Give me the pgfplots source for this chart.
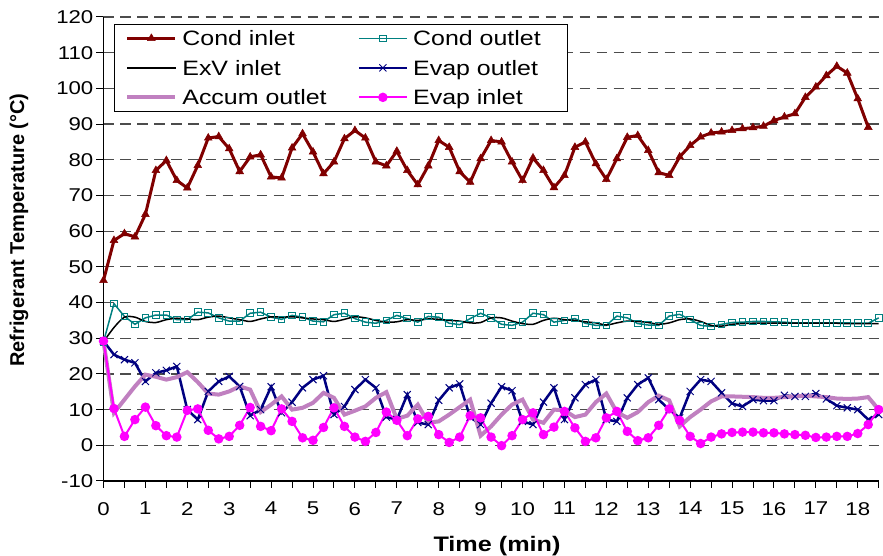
\documentclass[border=0pt]{standalone}
\usepackage{fontspec}
\setmainfont{Liberation Sans}[FakeStretch=1.2]
\newfontfamily\ylabfont{Liberation Sans}
\usepackage{pgfplots}
\usepackage{pgfplotstable}
\pgfplotsset{compat=1.18}
\definecolor{condin}{RGB}{128,0,0}
\definecolor{condout}{RGB}{0,128,128}
\definecolor{evapout}{RGB}{0,0,128}
\definecolor{accum}{RGB}{192,128,192}
\definecolor{evapin}{RGB}{255,0,255}

\pgfplotstableread{
t condin condout exv evapout accum evapin
0 46.2 29.0 29.0 29.2 29.2 29.2
0.25 57.4 39.7 33.0 25.4 9.1 10.3
0.5 59.3 36.1 35.9 24.0 12.8 2.5
0.75 58.4 33.9 35.9 23.1 16.5 7.2
1 64.7 35.7 34.7 17.9 19.8 10.7
1.25 77.0 36.5 34.4 20.3 19.2 5.5
1.5 79.8 36.5 35.2 21.0 18.4 2.7
1.75 74.2 35.2 35.6 22.1 19.1 2.3
2 72.1 35.2 35.4 10.0 20.5 9.8
2.25 78.4 37.3 35.2 7.2 17.7 10.2
2.5 86.1 37.1 35.9 15.1 14.5 4.2
2.75 86.5 35.7 36.2 17.9 14.2 1.8
3 83.1 34.8 35.7 19.3 15.1 2.5
3.25 76.7 34.8 35.2 16.5 16.5 5.6
3.5 80.8 37.0 34.7 8.3 15.6 10.6
3.75 81.4 37.3 35.4 10.0 9.3 5.3
4 75.2 35.9 36.0 16.4 11.4 4.1
4.25 74.9 35.3 35.9 9.1 13.7 10.2
4.5 83.3 36.4 36.0 12.1 10.0 6.7
4.75 87.3 35.9 35.7 16.1 10.5 2.1
5 82.2 34.8 35.4 18.4 11.9 1.4
5.25 76.1 34.6 35.2 19.5 14.7 5.0
5.5 79.4 36.6 34.7 8.6 13.3 10.5
5.75 85.9 37.0 35.3 10.9 8.6 5.3
6 88.2 35.5 36.0 15.6 9.7 2.3
6.25 86.1 34.5 35.7 18.4 10.9 1.1
6.5 79.4 34.2 35.0 16.1 13.3 3.6
6.75 78.3 35.0 34.5 7.9 14.9 9.3
7 82.4 36.4 34.6 7.2 7.4 7.0
7.25 77.0 35.5 35.2 14.2 8.3 2.7
7.5 73.0 34.5 35.0 6.4 11.4 7.4
7.75 78.3 36.1 35.4 5.8 6.3 8.1
8 85.4 35.9 35.3 12.6 6.7 3.0
8.25 83.5 34.2 35.0 16.1 8.6 0.8
8.5 76.7 33.8 34.8 17.2 10.7 2.3
8.75 73.7 35.5 34.3 7.9 12.8 8.3
9 80.3 37.0 34.4 5.8 2.7 7.7
9.25 85.4 35.7 35.7 11.8 5.3 2.3
9.5 85.0 33.9 35.7 16.4 8.6 -0.1
9.75 79.4 33.6 34.8 15.3 11.4 2.7
10 74.2 34.5 34.1 6.7 12.8 7.2
10.25 80.5 37.0 33.9 5.8 7.2 9.1
10.5 77.0 36.6 35.0 12.1 6.3 3.0
10.75 72.2 34.5 35.6 16.1 10.0 5.1
11 75.6 35.0 35.2 7.2 9.8 9.5
11.25 83.5 35.5 35.0 13.3 7.9 4.9
11.5 85.0 34.2 34.6 17.0 8.6 1.1
11.75 78.9 33.6 34.3 18.4 12.1 2.1
12 74.5 33.6 33.7 7.2 14.5 7.7
12.25 80.3 36.2 34.3 6.7 9.3 9.5
12.5 86.3 35.7 34.8 13.3 7.7 3.9
12.75 86.8 34.1 34.7 17.0 9.3 1.3
13 82.6 33.7 34.4 18.9 12.1 2.1
13.25 76.4 33.6 33.9 12.8 13.9 5.6
13.5 75.6 36.2 34.3 10.0 12.6 10.2
13.75 80.8 36.7 35.2 7.7 5.3 7.0
14 84.0 35.2 35.4 15.1 7.9 2.5
14.25 86.4 33.6 34.7 18.4 10.0 0.5
14.5 87.5 33.3 33.6 17.9 12.3 2.3
14.75 87.8 33.9 33.4 14.7 13.7 3.2
15 88.2 34.4 33.9 11.7 13.7 3.6
15.25 88.7 34.5 34.1 10.9 13.6 3.7
15.5 89.0 34.7 34.2 12.8 13.5 3.7
15.75 89.4 34.7 34.2 12.5 13.3 3.5
16 91.0 34.6 34.2 12.5 13.3 3.5
16.25 92.0 34.5 34.2 14.0 13.5 3.2
16.5 92.9 34.3 34.2 13.7 13.7 3.0
16.75 97.5 34.3 34.2 13.7 13.9 2.8
17 100.4 34.3 34.2 14.5 13.7 2.2
17.25 103.6 34.3 34.2 13.0 13.5 2.3
17.5 106.2 34.3 34.2 11.1 13.1 2.5
17.75 104.3 34.3 34.1 10.5 13.0 2.5
18 97.1 34.2 34.1 10.0 13.1 3.3
18.25 89.1 34.2 34.1 7.2 13.5 5.8
18.5 nan 35.7 34.1 8.6 10.0 10.0
}\datatable

\begin{document}
\begin{tikzpicture}
\useasboundingbox (-103.5pt,-75pt) rectangle (779.5pt,481pt);
\begin{axis}[
  scale only axis, width=775.2pt, height=464pt,
  at={(0pt,0pt)}, anchor=south west,
  xmin=0, xmax=18.5, ymin=-10, ymax=120,
  clip=false,
  axis lines=left,
  axis line style={-, line width=1.2pt, black},
  xtick={0,1,...,18},
  minor xtick={0.5,1.5,...,18.5},
  ytick={-10,0,...,120},
  tick align=outside,
  major tick length=7pt, minor tick length=7pt,
  every tick/.style={black, line width=1pt},
  ymajorgrids,
  grid style={black!70, line width=1.2pt, dash pattern=on 10.5pt off 6.5pt},
  /pgf/number format/assume math mode=true,
  ticklabel style={font=\fontsize{18.5}{20}\selectfont},
  yticklabel style={anchor=east, inner sep=0pt, text depth=0pt, xshift=-3pt},
  xticklabel style={anchor=north, inner sep=0pt, text depth=0pt, yshift=-14pt},
  xlabel={\bfseries Time (min)},
  xlabel style={at={(axis description cs:0.5076,-0.1509)}, anchor=base, font=\fontsize{21}{24}\selectfont},
  ylabel={\ylabfont\bfseries Refrigerant Temperature (°C)},
  ylabel style={at={(axis description cs:-0.109,0.541)}, anchor=center, font=\fontsize{20}{22}\selectfont},
  legend columns=2,
  legend cell align=left,
  legend style={at={(axis description cs:0.0135,0.985)}, anchor=north west,
    draw=black, line width=0.8pt, fill=white,
    font=\fontsize{20.8}{24}\selectfont,
    inner xsep=11pt, inner ysep=6.5pt, row sep=14.5pt,
    nodes={inner sep=0pt, text height=15pt, text depth=0pt},
    /tikz/every odd column/.append style={column sep=5pt},
    /tikz/every even column/.append style={column sep=31pt}},
  legend image code/.code={\draw[mark repeat=2,mark phase=2,#1] plot coordinates {(0pt,0pt) (24pt,0pt) (48pt,0pt)};},
]
\addplot[condin, line width=3pt, mark=triangle*, mark size=4.5pt, mark options={solid, fill=condin, line width=0.5pt}] table[x=t, y=condin] {\datatable};
\addlegendentry{Cond inlet}
\addplot[condout, line width=1.5pt, mark=square, mark size=3.3pt, mark options={solid, line width=1pt}] table[x=t, y=condout] {\datatable};
\addlegendentry{Cond outlet\hspace*{16pt}}
\addplot[black, line width=1.5pt, smooth, no marks] table[x=t, y=exv] {\datatable};
\addlegendentry{ExV inlet}
\addplot[evapout, line width=2.5pt, mark=x, mark size=5pt, mark options={solid, line width=1pt}] table[x=t, y=evapout] {\datatable};
\addlegendentry{Evap outlet}
\addplot[accum, line width=4pt, no marks] table[x=t, y=accum] {\datatable};
\addlegendentry{Accum outlet}
\addplot[evapin, line width=2pt, mark=*, mark size=3.7pt, mark options={solid, fill=evapin}] table[x=t, y=evapin] {\datatable};
\addlegendentry{Evap inlet}
\end{axis}
\end{tikzpicture}
\end{document}
